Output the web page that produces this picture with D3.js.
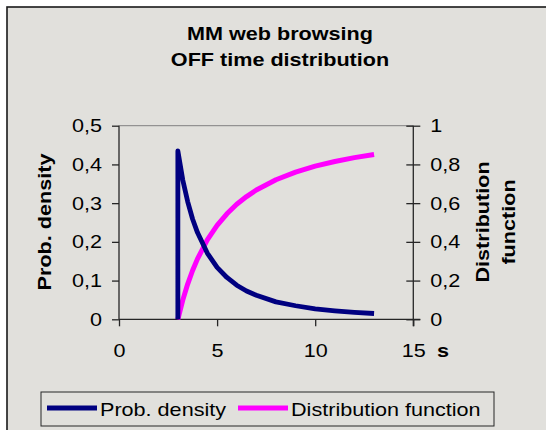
<!DOCTYPE html>
<html>
<head>
<meta charset="utf-8">
<script src="https://cdn.jsdelivr.net/npm/d3@7"></script>
<style>
  html, body { margin: 0; padding: 0; background: #ffffff; }
  svg { display: block; }
  text { font-family: Arial, "Liberation Sans", sans-serif; fill: #000; }
</style>
</head>
<body>
<svg id="chart" width="546" height="430"></svg>
<script>
// ---- data ----
const titleLines = ["MM web browsing", "OFF time distribution"];
const timeS      = [3,     3,     3.25,  3.5,   3.75,  4,     4.5,   5,     5.5,   6,     6.5,   7,     8,     9,     10,    11,    12,    13];
const probDensity= [0,     0.435, 0.360, 0.304, 0.259, 0.224, 0.171, 0.134, 0.108, 0.088, 0.073, 0.062, 0.045, 0.035, 0.027, 0.022, 0.018, 0.015];
const distFunc   = [0,     0,     0.099, 0.182, 0.252, 0.312, 0.410, 0.485, 0.545, 0.594, 0.634, 0.668, 0.721, 0.760, 0.791, 0.815, 0.835, 0.851];
const xTicks     = [0, 5, 10, 15];
const yLeftTicks = [0, 0.1, 0.2, 0.3, 0.4, 0.5];
const yRightTicks= [0, 0.2, 0.4, 0.6, 0.8, 1];
const seriesNames= ["Prob. density", "Distribution function"];
const seriesColors = ["#000080", "#FF00FF"];

const FS = 18, SX = 1.2;   // font size and horizontal stretch of the reference lettering
const BG = "#E1E0DC";

const svg = d3.select("#chart");

// chart area background + border
svg.append("rect").attr("x", 7).attr("y", 7).attr("width", 560).attr("height", 440)
  .attr("fill", BG).attr("stroke", "#1a1a1a").attr("stroke-width", 1.6);

const plot = { left: 119, right: 413.3, top: 125.7, bottom: 319.3 };

const x = d3.scaleLinear().domain([0, 15]).range([plot.left, plot.right]);
const yL = d3.scaleLinear().domain([0, 0.5]).range([plot.bottom, plot.top]);
const yR = d3.scaleLinear().domain([0, 1]).range([plot.bottom, plot.top]);

const fmt = d => String(d).replace(".", ",");

// helper: stretched text
function label(parent, px, py, str, opts = {}) {
  const rot = opts.rotate ? ` rotate(${opts.rotate})` : "";
  return parent.append("text")
    .attr("transform", `translate(${px},${py})${rot} scale(${SX},1)`)
    .attr("text-anchor", opts.anchor || "start")
    .attr("font-size", opts.size || FS)
    .attr("font-weight", opts.bold ? "bold" : "normal")
    .text(str);
}

// plot area top border
svg.append("line").attr("x1", plot.left).attr("x2", plot.right)
  .attr("y1", plot.top).attr("y2", plot.top)
  .attr("stroke", "#808080").attr("stroke-width", 1);

// axes
const axisColor = "#262626";
const gx = svg.append("g").attr("transform", `translate(0,${plot.bottom})`)
  .call(d3.axisBottom(x).tickValues(xTicks).tickFormat(fmt).tickSize(7));
const gyl = svg.append("g").attr("transform", `translate(${plot.left},0)`)
  .call(d3.axisLeft(yL).tickValues(yLeftTicks).tickFormat(fmt).tickSize(7));
const gyr = svg.append("g").attr("transform", `translate(${plot.right},0)`)
  .call(d3.axisRight(yR).tickValues(yRightTicks).tickFormat(fmt).tickSize(7));

[gx, gyl, gyr].forEach(g => {
  g.select(".domain").attr("stroke", axisColor).attr("stroke-width", 1.3);
  g.selectAll(".tick line").attr("stroke", axisColor).attr("stroke-width", 1.3);
  g.selectAll(".tick text").attr("font-size", FS).attr("fill", "#000")
    .style("font-family", "Arial, 'Liberation Sans', sans-serif");
});
// tick label placement (stretched like the reference)
gyl.selectAll(".tick text").attr("x", null).attr("dy", "0.34em")
  .attr("transform", `translate(-17,0) scale(${SX},1)`);
gyr.selectAll(".tick text").attr("x", null).attr("dy", "0.34em")
  .attr("transform", `translate(17,0) scale(${SX},1)`);
gx.selectAll(".tick text").attr("y", null).attr("dy", null)
  .attr("transform", `translate(0,38) scale(${SX},1)`);

// right axis ticks cross the axis
gyr.selectAll(".tick line").attr("x1", -7).attr("x2", 7);
gyr.select(".domain").attr("d", `M0,${plot.top}V${plot.bottom + 7}`);
gx.select(".domain").attr("d", `M${plot.left},0H${plot.right + 7}`);
gyl.select(".domain").attr("d", `M0,${plot.top}V${plot.bottom}`);

// series
const pts = timeS.map((t, i) => ({ t, p: probDensity[i], d: distFunc[i] }));
const lineP = d3.line().x(d => x(d.t)).y(d => yL(d.p));
const lineD = d3.line().x(d => x(d.t)).y(d => yR(d.d));

svg.append("path").datum(pts.slice(1)).attr("d", lineD)
  .attr("fill", "none").attr("stroke", seriesColors[1]).attr("stroke-width", 5)
  .attr("stroke-linejoin", "round");
svg.append("path").datum(pts).attr("d", lineP)
  .attr("fill", "none").attr("stroke", seriesColors[0]).attr("stroke-width", 4.8)
  .attr("stroke-linejoin", "round");

// title
label(svg, 280, 40, titleLines[0], { anchor: "middle", bold: true });
label(svg, 280, 66, titleLines[1], { anchor: "middle", bold: true });

// axis titles
label(svg, 51, 222, "Prob. density", { anchor: "middle", bold: true, rotate: -90 });
label(svg, 489, 222, "Distribution", { anchor: "middle", bold: true, rotate: -90 });
label(svg, 515, 222, "function", { anchor: "middle", bold: true, rotate: -90 });
label(svg, 437, 357, "s", { bold: true });

// legend
const lg = svg.append("g");
lg.append("rect").attr("x", 41).attr("y", 392).attr("width", 453).attr("height", 34)
  .attr("fill", BG).attr("stroke", "#262626").attr("stroke-width", 1);
const legendItems = [
  { name: seriesNames[0], color: seriesColors[0], x1: 47, x2: 97, tx: 100 },
  { name: seriesNames[1], color: seriesColors[1], x1: 238, x2: 288, tx: 291 }
];
legendItems.forEach(it => {
  lg.append("line").attr("x1", it.x1).attr("x2", it.x2).attr("y1", 408).attr("y2", 408)
    .attr("stroke", it.color).attr("stroke-width", 4.8);
  label(lg, it.tx, 416, it.name);
});
</script>
</body>
</html>
